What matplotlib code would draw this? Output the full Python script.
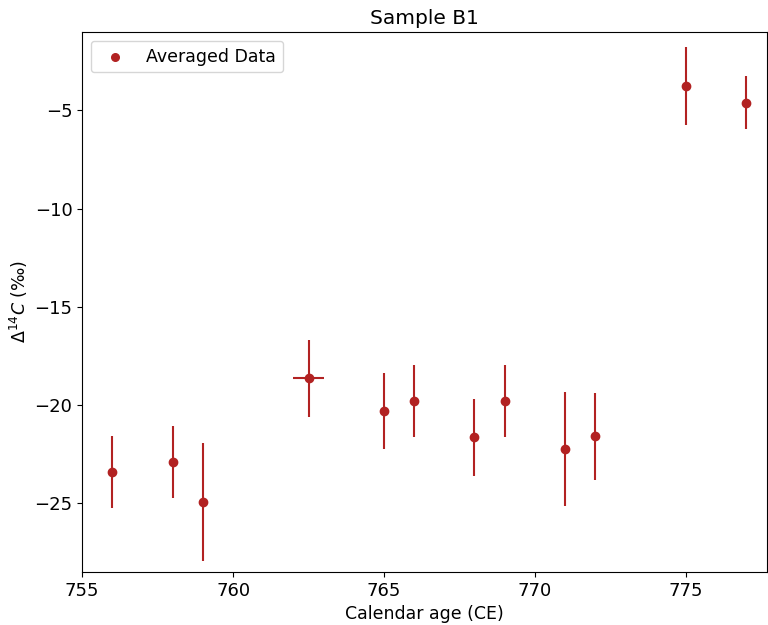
import matplotlib
matplotlib.use("Agg")
import matplotlib.pyplot as plt

# Sample B1 averaged data
years = [756, 758, 759, 762.5, 765, 766, 768, 769, 771, 772, 775, 777]
d14c = [-23.4, -22.9, -24.95, -18.65, -20.3, -19.8, -21.65, -19.8, -22.25, -21.6, -3.75, -4.6]
d14c_err = [1.83, 1.82, 3.0, 1.96, 1.94, 1.83, 1.95, 1.83, 2.92, 2.2, 2.0, 1.35]
year_err = [0, 0, 0, 0.5, 0, 0, 0, 0, 0, 0, 0, 0]

color = '#b22222'

fig = plt.figure(figsize=(7.68, 6.25), dpi=100)
ax = fig.add_axes([0.107, 0.085, 0.892, 0.864])

ax.errorbar(years, d14c, yerr=d14c_err, xerr=year_err, fmt='o', color=color,
            ms=6, elinewidth=1.5, capsize=0)
ax.scatter([], [], color=color, s=30, label='Averaged Data')

ax.set_title('Sample B1', fontsize=14.5)
ax.set_xlabel('Calendar age (CE)', fontsize=12.5)
ax.set_ylabel(r'$\Delta^{14}C$ (‰)', fontsize=12.5, labelpad=3)
ax.tick_params(labelsize=13)
ax.set_xticks([755, 760, 765, 770, 775])
ax.set_xlim(755, 777.7)
ax.set_ylim(-28.5, -1.0)
ax.legend(loc='upper left', fontsize=12.5)

fig.savefig('out.png', dpi=100)
